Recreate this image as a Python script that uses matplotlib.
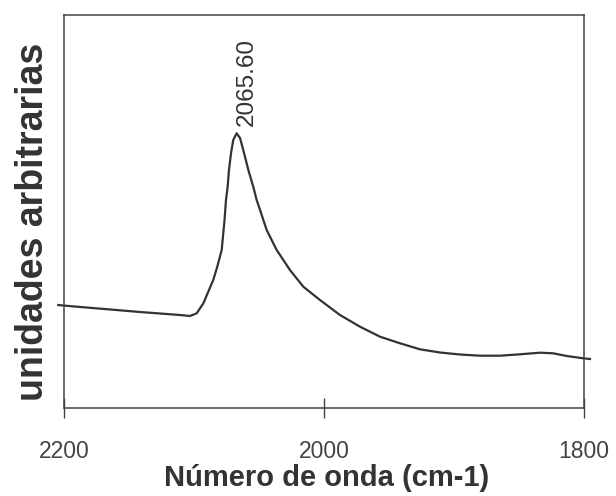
import numpy as np
import matplotlib.pyplot as plt

# espectro IR (numero de onda en cm-1, intensidad arbitraria)
wavenumber = [2204.4, 2199.2, 2141.5, 2110.8, 2103.1, 2097.9, 2092.8, 2085.2,
              2082.1, 2078.7, 2076.5, 2075.4, 2074.1, 2073.1, 2071.5, 2069.8,
              2067.2, 2064.6, 2062.1, 2058.2, 2054.4, 2051.8, 2049.2, 2044.1,
              2036.4, 2026.2, 2015.9, 2003.1, 1987.7, 1972.3, 1956.9, 1941.5,
              1926.2, 1910.8, 1895.4, 1880.0, 1864.6, 1849.2, 1833.8, 1823.8,
              1813.3, 1800.5, 1795.4]
intensity = [1.03, 1.023, 0.96, 0.93, 0.92, 0.947, 1.047, 1.28,
             1.413, 1.58, 1.88, 2.08, 2.213, 2.38, 2.55, 2.68,
             2.747, 2.70, 2.58, 2.38, 2.213, 2.08, 1.98, 1.78,
             1.58, 1.38, 1.213, 1.08, 0.93, 0.813, 0.713, 0.647,
             0.587, 0.555, 0.535, 0.523, 0.523, 0.537, 0.553, 0.547,
             0.52, 0.497, 0.49]

peak_label = "2065.60"
xticks = [2200, 2000, 1800]

plt.rcParams['font.family'] = ['Liberation Sans', 'DejaVu Sans']

fig = plt.figure(figsize=(6.16, 4.96), dpi=100)
ax = fig.add_axes([64/616, 1 - 408/496, 520/616, 393/496])

ax.plot(wavenumber, intensity, color='#333333', lw=1.6, clip_on=False,
        solid_joinstyle='round')

# etiqueta del maximo
i_max = int(np.argmax(intensity))
ax.annotate(peak_label, xy=(wavenumber[i_max], intensity[i_max]), xytext=(7, 5),
            textcoords='offset points', rotation=90, ha='center', va='bottom',
            fontsize=17.5, color='#333333')

ax.set_xlim(2200, 1800)
ax.set_ylim(0, 3.93)
ax.set_xticks(xticks)
ax.set_xticklabels([str(t) for t in xticks], fontsize=16.5, color='#333333')
ax.set_yticks([])
ax.tick_params(axis='x', direction='inout', length=14, width=1, colors='#444444', pad=16)
for s in ax.spines.values():
    s.set_color('#444444')
    s.set_linewidth(1.1)

fig.text(33/616, 1 - 222/496, "unidades arbitrarias", rotation=90,
         ha='center', va='center', fontsize=27, fontweight='bold', color='#333333')
fig.text(327/616, 1 - 478/496, "Número de onda (cm-1)",
         ha='center', va='center', fontsize=21, fontweight='bold', color='#333333')

fig.savefig('out.png', dpi=100)
